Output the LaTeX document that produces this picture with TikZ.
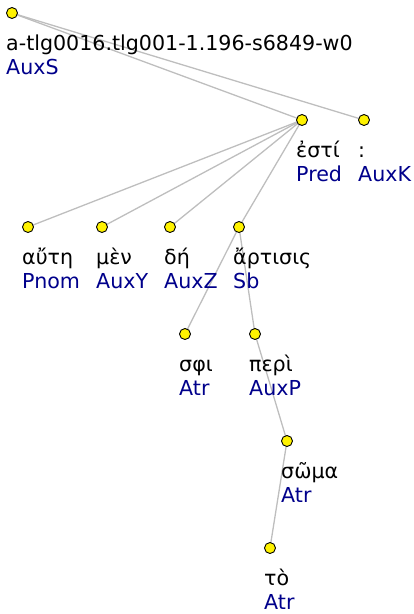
\documentclass[tikz,border=0pt]{standalone}
\usepackage{fontspec}
\setmainfont{DejaVu Sans}
\definecolor{edgegray}{RGB}{190,190,190}
\definecolor{lblblue}{RGB}{0,0,139}
\begin{document}
\begin{tikzpicture}[x=1pt,y=-1pt,
  tok/.style={circle,draw=black,fill=yellow,line width=0.9pt,minimum size=11pt,inner sep=0pt},
  edge/.style={draw=edgegray,line width=1.3pt},
  word/.style={anchor=base west,inner sep=0pt,font=\fontsize{20.6}{24}\selectfont,text=black},
  lbl/.style={anchor=base west,inner sep=0pt,font=\fontsize{20.6}{24}\selectfont,text=lblblue}]
\useasboundingbox (0,0) rectangle (413,614);
% coordinates of tokens
\coordinate (c0) at (12,13);
\coordinate (c1) at (302,120);
\coordinate (c2) at (364,120);
\coordinate (c3) at (28,227);
\coordinate (c4) at (102,227);
\coordinate (c5) at (170,227);
\coordinate (c6) at (239,227);
\coordinate (c7) at (185,334);
\coordinate (c8) at (255,334);
\coordinate (c9) at (287,441);
\coordinate (c10) at (270,548);
% edges
\draw[edge] (c0) -- (c1);
\draw[edge] (c0) -- (c2);
\draw[edge] (c1) -- (c3);
\draw[edge] (c1) -- (c4);
\draw[edge] (c1) -- (c5);
\draw[edge] (c1) -- (c6);
\draw[edge] (c6) -- (c7);
\draw[edge] (c6) -- (c8);
\draw[edge] (c8) -- (c9);
\draw[edge] (c9) -- (c10);
% nodes
\foreach \i in {0,...,10} {\node[tok] (n\i) at (c\i) {};}
% texts
\node[word] (w0) at ([xshift=-6pt,yshift=-37.5pt]c0) {a-tlg0016.tlg001-1.196-s6849-w0};
\node[lbl]  (l0) at ([xshift=-6pt,yshift=-61.5pt]c0) {AuxS};
\node[word] (w1) at ([xshift=-6pt,yshift=-37.5pt]c1) {ἐστί};
\node[lbl]  (l1) at ([xshift=-6pt,yshift=-61.5pt]c1) {Pred};
\node[word] (w2) at ([xshift=-6pt,yshift=-37.5pt]c2) {:};
\node[lbl]  (l2) at ([xshift=-6pt,yshift=-61.5pt]c2) {AuxK};
\node[word] (w3) at ([xshift=-6pt,yshift=-37.5pt]c3) {αὔτη};
\node[lbl]  (l3) at ([xshift=-6pt,yshift=-61.5pt]c3) {Pnom};
\node[word] (w4) at ([xshift=-6pt,yshift=-37.5pt]c4) {μὲν};
\node[lbl]  (l4) at ([xshift=-6pt,yshift=-61.5pt]c4) {AuxY};
\node[word] (w5) at ([xshift=-6pt,yshift=-37.5pt]c5) {δή};
\node[lbl]  (l5) at ([xshift=-6pt,yshift=-61.5pt]c5) {AuxZ};
\node[word] (w6) at ([xshift=-6pt,yshift=-37.5pt]c6) {ἄρτισις};
\node[lbl]  (l6) at ([xshift=-6pt,yshift=-61.5pt]c6) {Sb};
\node[word] (w7) at ([xshift=-6pt,yshift=-37.5pt]c7) {σφι};
\node[lbl]  (l7) at ([xshift=-6pt,yshift=-61.5pt]c7) {Atr};
\node[word] (w8) at ([xshift=-6pt,yshift=-37.5pt]c8) {περὶ};
\node[lbl]  (l8) at ([xshift=-6pt,yshift=-61.5pt]c8) {AuxP};
\node[word] (w9) at ([xshift=-6pt,yshift=-37.5pt]c9) {σῶμα};
\node[lbl]  (l9) at ([xshift=-6pt,yshift=-61.5pt]c9) {Atr};
\node[word] (w10) at ([xshift=-6pt,yshift=-37.5pt]c10) {τὸ};
\node[lbl]  (l10) at ([xshift=-6pt,yshift=-61.5pt]c10) {Atr};
\end{tikzpicture}
\end{document}
